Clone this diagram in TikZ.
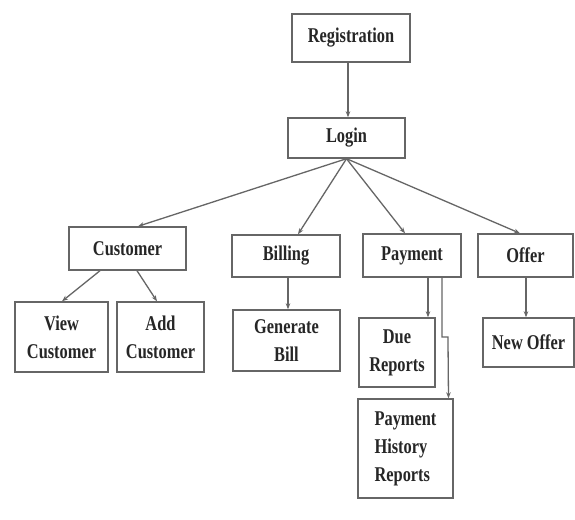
\documentclass[tikz,border=0pt]{standalone}
\usepackage{fontspec}
\newfontfamily\diagfont{Liberation Serif}[FakeStretch=0.78]
\usetikzlibrary{arrows.meta,calc}
\begin{document}
\begin{tikzpicture}[x=1pt,y=-1pt,
  box/.style={draw=black!60,line width=1.4pt,rectangle,inner sep=0pt,
    font=\diagfont\bfseries\fontsize{21}{28}\selectfont,text=black!85,align=center},
  conn/.style={draw=black!60,line width=1.3pt,-{Stealth[length=6pt,width=4.5pt]}}]
\fill[white] (0,0) rectangle (575,519);
\useasboundingbox (0,0) rectangle (575,519);
\node[box,minimum width=118pt,minimum height=48pt] (reg) at (351,38) {Registration};
\node[box,minimum width=117pt,minimum height=40pt] (login) at (346.5,138) {Login};
\node[box,minimum width=117pt,minimum height=43pt] (cust) at (127.5,248.5) {Customer};
\node[box,minimum width=108pt,minimum height=42pt] (bill) at (286,256) {Billing};
\node[box,minimum width=98pt,minimum height=43pt] (pay) at (412,255.5) {Payment};
\node[box,minimum width=95pt,minimum height=43pt] (offer) at (525.5,255.5) {Offer};
\node[box,minimum width=93pt,minimum height=70pt] (view) at (61.5,337) {View\\Customer};
\node[box,minimum width=87pt,minimum height=70pt] (add) at (160.5,337) {Add\\Customer};
\node[box,minimum width=107pt,minimum height=61pt] (gen) at (286.5,340.5) {Generate\\Bill};
\node[box,minimum width=76pt,minimum height=69pt] (due) at (397,352.5) {Due\\Reports};
\node[box,minimum width=95pt,minimum height=99pt,align=left] (phr) at (405.5,448.5) {Payment\\History\\Reports};
\node[box,minimum width=91pt,minimum height=49pt] (newo) at (528.5,342.5) {New Offer};
\draw[conn] ([xshift=-3pt]reg.south) -- ([xshift=1.5pt]login.north);
\draw[conn] (login.south) -- ([xshift=10.5pt]cust.north);
\draw[conn] (login.south) -- ([xshift=12pt]bill.north);
\draw[conn] (login.south) -- ([xshift=-7pt]pay.north);
\draw[conn] (login.south) -- ([xshift=-5.5pt]offer.north);
\draw[conn] ([xshift=-27.5pt]cust.south) -- ([xshift=0.5pt]view.north);
\draw[conn] ([xshift=9.5pt]cust.south) -- ([xshift=-3.5pt]add.north);
\draw[conn] ([xshift=2pt]bill.south) -- ([xshift=1.5pt]gen.north);
\draw[conn] ([xshift=16pt]pay.south) -- ([xshift=31pt]due.north);
\coordinate (j1) at (442,337);
\coordinate (j2) at (448,341);
\draw[conn] ([xshift=30pt]pay.south) -- (j1) -- (j1 -| j2) -- (j2) -- ([xshift=43pt]phr.north);
\draw[conn] ([xshift=0.5pt]offer.south) -- ([xshift=-2.5pt]newo.north);
\end{tikzpicture}
\end{document}
